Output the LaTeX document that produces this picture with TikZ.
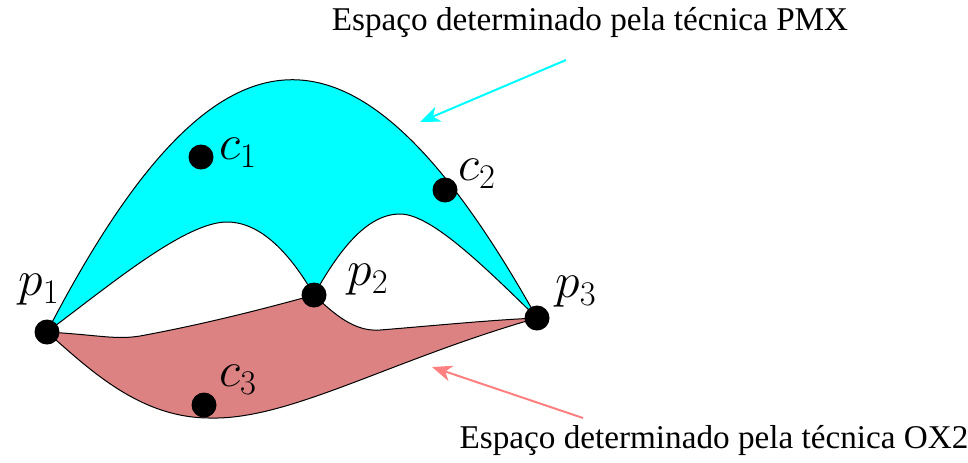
\documentclass[tikz,border=0pt]{standalone}
\usepackage{fontspec}
\setmainfont{Liberation Serif}
\usetikzlibrary{arrows.meta}
\definecolor{cyanfill}{RGB}{0,255,255}
\definecolor{redfill}{RGB}{220,130,130}
\definecolor{redarrow}{RGB}{255,128,128}
\begin{document}
\begin{tikzpicture}[x=0.5pt,y=-0.5pt,
  dot/.style={circle,fill=black,inner sep=0pt,minimum size=12.5pt},
  lbl/.style={font=\fontsize{25}{28}\selectfont},
  caption/.style={font=\fontsize{16.6}{19}\selectfont},
  edge/.style={draw=black,line width=0.5pt},
  pointer/.style={line width=1pt,-{Stealth[length=10pt,width=8pt,inset=3pt]}}]
\useasboundingbox (0,0) rectangle (968,462);
% regions
\path[edge,fill=cyanfill] (47,332) .. controls (220,-2) and (358,-2) .. (537,318)
  .. controls (480,262) and (430,214) .. (400,214)
  .. controls (366,214) and (338,252) .. (314,295)
  .. controls (295,262) and (265,222) .. (227,222)
  .. controls (185,222) and (110,285) .. (47,332) -- cycle;
\path[edge,fill=redfill] (47,332) .. controls (100,335) and (115,340) .. (140,336)
  .. controls (200,325) and (260,310) .. (314,295)
  .. controls (335,315) and (355,332) .. (380,330)
  .. controls (430,326) and (490,320) .. (537,318)
  .. controls (390,360) and (290,420) .. (210,418)
  .. controls (140,418) and (90,370) .. (47,332) -- cycle;
% points
\node[dot] (p1) at (47,332) {};
\node[dot] (p2) at (314,295) {};
\node[dot] (p3) at (537,318) {};
\node[dot] (c1) at (201,157) {};
\node[dot] (c2) at (445,190) {};
\node[dot] (c3) at (204,405) {};
\node[lbl] (lp1) at (39,290) {$p_1$};
\node[lbl] (lp2) at (368,280) {$p_2$};
\node[lbl] (lp3) at (576,292) {$p_3$};
\node[lbl] (lc1) at (238,153) {$c_1$};
\node[lbl] (lc2) at (477,174) {$c_2$};
\node[lbl] (lc3) at (238,380) {$c_3$};
% captions
\node[caption] (pmx) at (590,22) {Espaço determinado pela técnica PMX};
\node[caption] (ox2) at (714,440) {Espaço determinado pela técnica OX2};
\coordinate (a1s) at (566,60);
\coordinate (a1e) at (420,122);
\coordinate (a2s) at (583,418);
\coordinate (a2e) at (432,367);
\draw[pointer,cyanfill] (a1s) -- (a1e);
\draw[pointer,redarrow] (a2s) -- (a2e);
\end{tikzpicture}
\end{document}
